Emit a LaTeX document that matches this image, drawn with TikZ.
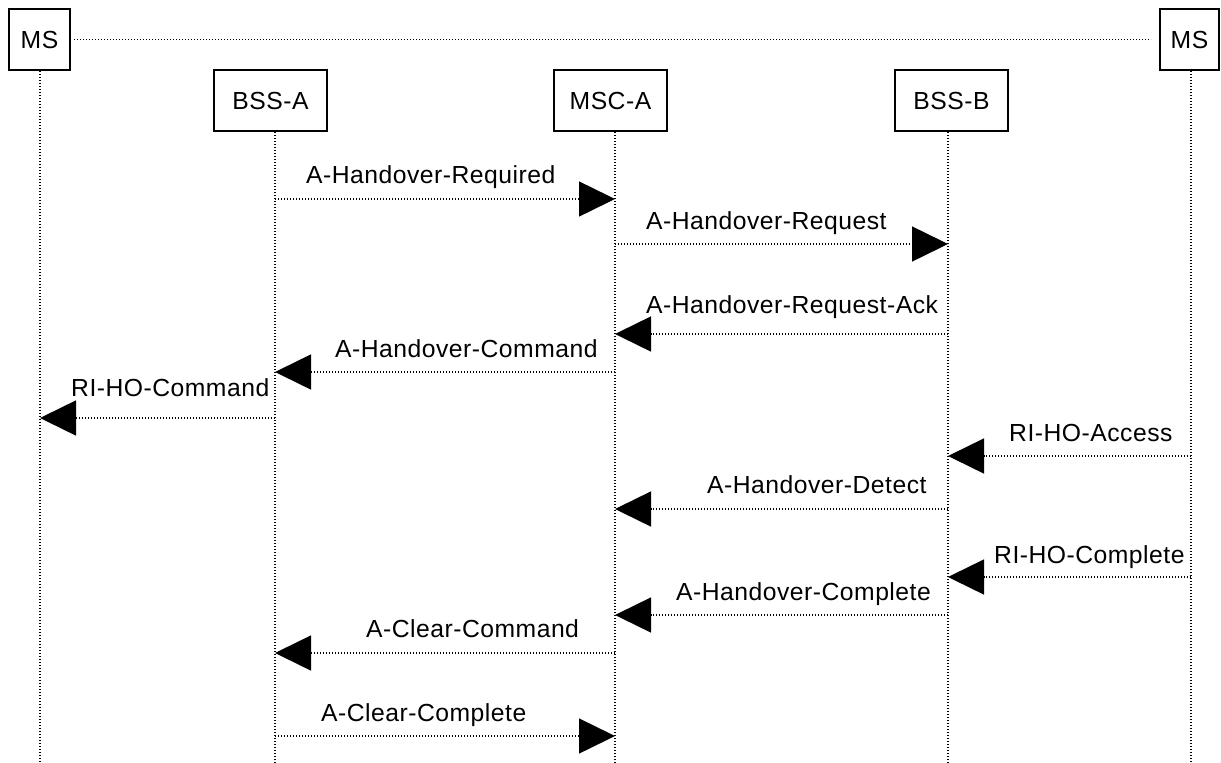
\documentclass[tikz,border=0pt]{standalone}
\usepackage{fontspec}
\setmainfont{Liberation Sans}[LetterSpace=2.0]
\usetikzlibrary{arrows.meta}
\begin{document}
\begin{tikzpicture}[x=1pt,y=-1pt,
  lbl/.style={font=\fontsize{24.7pt}{30pt}\selectfont, inner sep=0pt},
  entity/.style={lbl, draw, line width=2pt, minimum height=61pt},
  dots/.style={line width=1.5pt, dash pattern=on 1.2pt off 1.8pt},
  msg/.style={dots, -{Triangle[length=36pt,width=35pt]}},
  msglabel/.style={lbl, anchor=base west}]
  \useasboundingbox (0,0) rectangle (1221,763);

  % entity boxes
  \node[entity, minimum width=61pt]  (ms1)  at (39.5,39.5)   {MS};
  \node[entity, minimum width=113pt] (bssa) at (270.5,100.5) {BSS-A};
  \node[entity, minimum width=113pt] (msca) at (610.5,100.5) {MSC-A};
  \node[entity, minimum width=113pt] (bssb) at (951.5,100.5) {BSS-B};
  \node[entity, minimum width=59pt]  (ms2)  at (1189.5,39.5) {MS};

  % foot of each lifeline
  \coordinate (lms1)  at (40,763);
  \coordinate (lbssa) at (275,763);
  \coordinate (lmsca) at (615,763);
  \coordinate (lbssb) at (948,763);
  \coordinate (lms2)  at (1191,763);

  % lifelines
  \draw[dots] (ms1.south -| lms1) -- (lms1);
  \draw[dots] (bssa.south -| lbssa) -- (lbssa);
  \draw[dots] (msca.south -| lmsca) -- (lmsca);
  \draw[dots] (bssb.south -| lbssb) -- (lbssb);
  \draw[dots] (ms2.south -| lms2) -- (lms2);
  \draw[dots, shorten <=3pt, shorten >=8pt] (ms1.east) -- (ms2.west);

  % messages
  \draw[msg] (lbssa |- 0,199) -- (lmsca |- 0,199);
  \node[msglabel] (t1) at (306,183) {A-Handover-Required};

  \draw[msg] (lmsca |- 0,244) -- (lbssb |- 0,244);
  \node[msglabel] (t2) at (646,229) {A-Handover-Request};

  \draw[msg] (lbssb |- 0,334) -- (lmsca |- 0,334);
  \node[msglabel] (t3) at (646,313) {A-Handover-Request-Ack};

  \draw[msg] (lmsca |- 0,372) -- (lbssa |- 0,372);
  \node[msglabel] (t4) at (335,357) {A-Handover-Command};

  \draw[msg] (lbssa |- 0,418) -- (lms1 |- 0,418);
  \node[msglabel] (t5) at (71,396) {RI-HO-Command};

  \draw[msg] (lms2 |- 0,456) -- (lbssb |- 0,456);
  \node[msglabel] (t6) at (1009,441) {RI-HO-Access};

  \draw[msg] (lbssb |- 0,509) -- (lmsca |- 0,509);
  \node[msglabel] (t7) at (707,493) {A-Handover-Detect};

  \draw[msg] (lms2 |- 0,577) -- (lbssb |- 0,577);
  \node[msglabel] (t8) at (994,563) {RI-HO-Complete};

  \draw[msg] (lbssb |- 0,615) -- (lmsca |- 0,615);
  \node[msglabel] (t9) at (676,600) {A-Handover-Complete};

  \draw[msg] (lmsca |- 0,653) -- (lbssa |- 0,653);
  \node[msglabel] (t10) at (366,637) {A-Clear-Command};

  \draw[msg] (lbssa |- 0,736) -- (lmsca |- 0,736);
  \node[msglabel] (t11) at (321,721) {A-Clear-Complete};
\end{tikzpicture}
\end{document}
